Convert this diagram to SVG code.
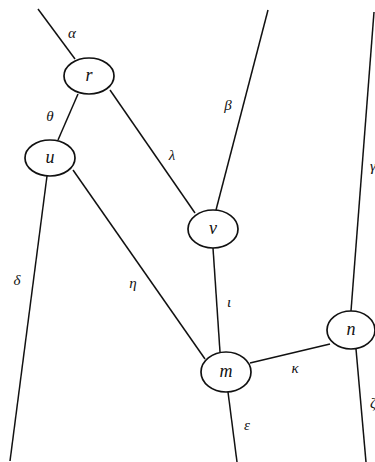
<svg xmlns="http://www.w3.org/2000/svg" width="375" height="462" viewBox="0 0 375 462">
<style>
.e{stroke:#111;stroke-width:1.5;fill:none}
.n{fill:#fff;stroke:#111;stroke-width:1.7}
</style>
<rect width="375" height="462" fill="#fff"/>
<g id="connectors">
<line class="e" x1="38" y1="9" x2="75" y2="59"/>
<line class="e" x1="78" y1="94" x2="58" y2="140"/>
<line class="e" x1="110" y1="90" x2="195" y2="213"/>
<line class="e" x1="268" y1="10" x2="216" y2="210"/>
<line class="e" x1="374" y1="12" x2="351" y2="311"/>
<line class="e" x1="47" y1="176" x2="10" y2="461"/>
<line class="e" x1="73" y1="170" x2="205" y2="359"/>
<line class="e" x1="213" y1="248" x2="220" y2="352"/>
<line class="e" x1="250" y1="363" x2="330" y2="344"/>
<line class="e" x1="228" y1="392" x2="237" y2="462"/>
<line class="e" x1="356" y1="349" x2="366" y2="462"/>
<g font-family="Liberation Serif, DejaVu Serif, serif" font-style="italic" font-size="15" fill="#111" text-anchor="middle">
<text x="72" y="38">α</text>
<text x="50" y="121">θ</text>
<text x="172" y="160">λ</text>
<text x="228" y="110">β</text>
<text x="373" y="171">γ</text>
<text x="17" y="285">δ</text>
<text x="133" y="288">η</text>
<text x="229" y="307">ι</text>
<text x="295" y="373">κ</text>
<text x="247" y="430">ε</text>
<text x="373" y="408">ζ</text>
</g>
</g>
<g font-family="Liberation Serif, DejaVu Serif, serif" font-style="italic" font-size="18" fill="#111" text-anchor="middle">
<g id="node-r"><ellipse class="n" cx="89" cy="76" rx="25" ry="18"/><text x="89" y="81">r</text></g>
<g id="node-u"><ellipse class="n" cx="50" cy="158" rx="25" ry="18"/><text x="50" y="163">u</text></g>
<g id="node-v"><ellipse class="n" cx="213" cy="229" rx="25" ry="19"/><text x="213" y="234">v</text></g>
<g id="node-m"><ellipse class="n" cx="226" cy="372" rx="25" ry="20"/><text x="226" y="377">m</text></g>
<g id="node-n"><ellipse class="n" cx="351" cy="330" rx="24" ry="19"/><text x="351" y="335">n</text></g>
</g>
</svg>
